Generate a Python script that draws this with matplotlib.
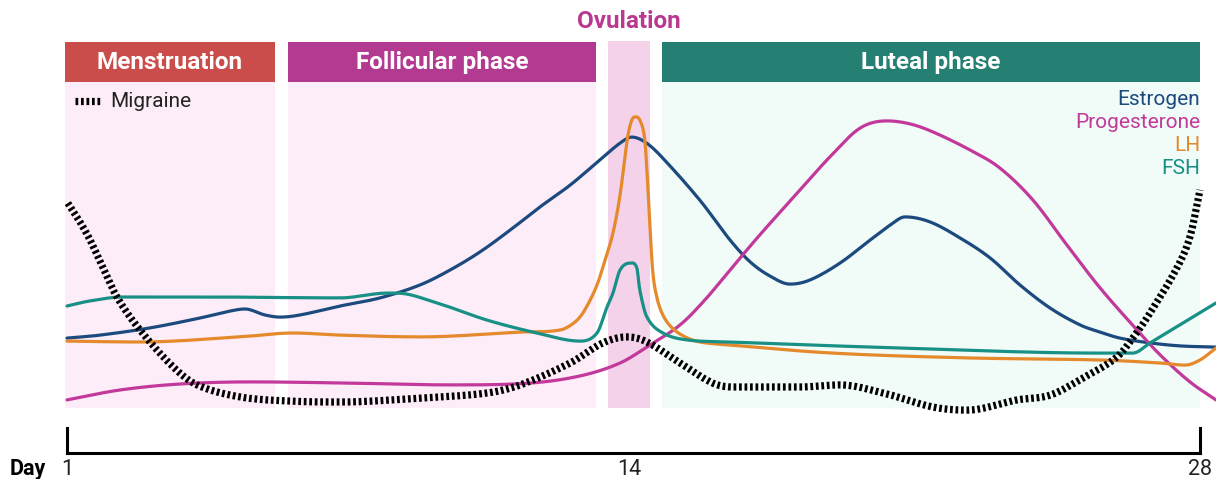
#!/usr/bin/env python3
"""Hormone levels and migraine frequency across the menstrual cycle."""

import matplotlib

matplotlib.use("Agg")
import matplotlib.pyplot as plt
import numpy as np
from matplotlib.patches import Rectangle

plt.rcParams["font.family"] = ["Roboto", "DejaVu Sans"]

# cycle phases (day span) -------------------------------------------------
phase_names = ["Menstruation", "Follicular phase", "Ovulation", "Luteal phase"]
phase_start = [0.95, 6.27, 13.89, 15.18]
phase_end = [5.96, 13.61, 14.89, 28.0]

# hormone curves: day, relative level ------------------------------------
estrogen_day = [1.00, 1.79, 2.98, 4.17, 4.88, 5.24, 5.72, 6.08, 6.55, 7.51, 8.46, 9.41,
                10.13, 10.84, 11.56, 12.27, 12.99, 13.70, 14.18, 14.46, 14.77, 15.13,
                16.08, 16.80, 17.28, 17.75, 18.23, 18.71, 19.42, 20.14, 20.62, 20.97,
                21.57, 22.28, 23.00, 23.71, 24.43, 25.14, 25.62, 26.09, 26.81, 27.52, 28.38]
estrogen = [23.3, 24.3, 26.7, 30.0, 32.3, 33.0, 31.0, 30.3, 31.0, 34.0, 36.7, 41.0,
            46.0, 52.0, 59.3, 67.0, 74.3, 82.7, 88.3, 90.3, 88.7, 84.3,
            69.3, 56.0, 48.7, 44.0, 41.3, 42.7, 48.3, 56.0, 61.0, 63.7,
            62.0, 56.7, 50.0, 41.0, 33.3, 27.7, 25.3, 23.3, 21.7, 20.7, 20.3]

progesterone_day = [1.00, 2.26, 3.69, 5.36, 7.74, 10.13, 12.03, 13.23, 14.18, 14.89, 15.61,
                    16.20, 16.80, 17.51, 18.47, 19.18, 19.90, 20.54, 21.09, 21.64, 22.52,
                    23.23, 24.02, 24.83, 25.62, 26.50, 27.05, 27.76, 28.38]
progesterone = [2.7, 6.0, 8.0, 8.7, 8.3, 7.7, 8.3, 10.7, 15.0, 21.0, 27.7,
                36.0, 46.0, 57.7, 72.7, 83.7, 93.3, 95.7, 94.7, 92.0, 86.0,
                80.0, 69.3, 54.3, 40.0, 26.0, 17.7, 8.7, 2.7]

lh_day = [1.00, 2.74, 5.12, 6.39, 7.51, 9.41, 11.80, 12.75, 13.11, 13.34, 13.63, 13.82,
          14.01, 14.18, 14.35, 14.46, 14.58, 14.70, 14.77, 14.82, 14.89, 14.96, 15.06,
          15.20, 15.42, 15.73, 16.08, 16.80, 19.25, 22.45, 25.62, 27.05, 27.64, 28.00, 28.38]
lh = [22.3, 22.0, 23.7, 25.0, 24.3, 23.7, 25.3, 26.0, 28.7, 32.7, 41.0, 49.3,
      58.3, 71.0, 89.3, 96.0, 97.0, 94.3, 89.3, 79.3, 61.0, 45.3, 36.7,
      31.0, 26.7, 23.7, 22.0, 21.0, 18.3, 16.7, 16.0, 15.0, 14.3, 16.0, 20.0]

fsh_day = [1.00, 1.55, 2.33, 4.34, 7.51, 8.63, 8.86, 9.82, 11.01, 12.20, 13.23, 13.63,
           13.87, 14.01, 14.18, 14.42, 14.58, 14.65, 14.82, 15.20, 15.77, 16.80, 20.85,
           25.62, 26.40, 26.81, 27.59, 28.38]
fsh = [34.0, 35.7, 37.0, 37.0, 36.7, 38.3, 38.3, 35.0, 29.3, 25.0, 22.3, 25.0,
       33.7, 38.3, 46.0, 48.3, 46.7, 39.3, 30.3, 25.0, 22.7, 22.0, 20.0,
       18.3, 18.3, 21.7, 28.3, 35.0]

migraine_day = [1.02, 1.31, 1.55, 1.86, 2.19, 2.74, 3.53, 4.10, 5.12, 6.31, 7.51, 9.41,
                11.01, 11.80, 12.99, 13.77, 14.35, 14.82, 15.61, 16.39, 16.87, 18.47,
                19.42, 20.45, 21.64, 22.45, 23.64, 24.43, 25.21, 26.02, 26.45, 26.81,
                27.45, 27.76, 28.00]
migraine = [68.3, 62.0, 56.0, 46.7, 37.0, 26.0, 13.7, 7.7, 3.7, 2.3, 2.0, 3.3,
            5.0, 7.7, 15.0, 21.7, 23.7, 22.0, 15.0, 8.3, 7.0, 7.0,
            7.7, 5.0, 0.3, -0.7, 2.7, 4.3, 10.0, 17.0, 24.3, 31.7,
            46.7, 57.0, 72.7]

hormone_names = ["Estrogen", "Progesterone", "LH", "FSH"]
hormone_colors = ["#1c4a7e", "#c2399b", "#e58a2c", "#199086"]
tick_labels = ["1", "14", "28"]


def smooth(x, y, n=1200):
    """Catmull-Rom style Hermite curve through the read points (drawing only)."""
    x = np.asarray(x, float)
    y = np.asarray(y, float)
    h = np.diff(x)
    d = np.diff(y) / h
    m = np.empty_like(y)
    m[1:-1] = (y[2:] - y[:-2]) / (x[2:] - x[:-2])
    m[1:-1][d[:-1] * d[1:] <= 0] = 0.0  # flat at local peaks / troughs
    m[0], m[-1] = d[0], d[-1]
    xs = np.linspace(x[0], x[-1], n)
    i = np.clip(np.searchsorted(x, xs) - 1, 0, len(h) - 1)
    t = (xs - x[i]) / h[i]
    ys = ((2 * t**3 - 3 * t**2 + 1) * y[i] + (t**3 - 2 * t**2 + t) * h[i] * m[i]
          + (-2 * t**3 + 3 * t**2) * y[i + 1] + (t**3 - t**2) * h[i] * m[i + 1])
    return xs, ys


W, H = 1216, 479
fig = plt.figure(figsize=(W / 100, H / 100), dpi=100)
ax = fig.add_axes([0, 0, 1, 1])
px_per_day = (1200 - 67) / 27
ax.set_xlim(1 - 67 / px_per_day, 1 + (W - 67) / px_per_day)
ax.set_ylim(-(H - 408) / 3, 408 / 3)
ax.axis("off")

# background bands and headers
band_colors = ["#fdedf8", "#fdedf8", "#f4d2ea", "#f1fbf8"]
head_colors = ["#cb4d4b", "#b33a91", None, "#257f73"]
for name, x0, x1, bc, hc in zip(phase_names, phase_start, phase_end, band_colors, head_colors):
    top = 122.3 if hc is None else 108.7
    ax.add_patch(Rectangle((x0, 0), x1 - x0, top, facecolor=bc, edgecolor="none", zorder=0))
    if hc is None:
        ax.text((x0 + x1) / 2, 128.7, name, ha="center", va="center", color="#b8398f",
                fontsize=17.5, fontweight="bold")
    else:
        ax.add_patch(Rectangle((x0, 108.7), x1 - x0, 13.3, facecolor=hc, edgecolor="none", zorder=1))
        ax.text((x0 + x1) / 2, 115.3, name, ha="center", va="center", color="white",
                fontsize=17.5, fontweight="bold")

series = [(estrogen_day, estrogen), (progesterone_day, progesterone), (lh_day, lh), (fsh_day, fsh)]
for (xd, yd), color in zip(series, hormone_colors):
    xs, ys = smooth(xd, yd)
    ax.plot(xs, ys, color=color, lw=2.3, solid_capstyle="round", zorder=3)

xs, ys = smooth(migraine_day, migraine)
ax.plot(xs, ys, color="black", lw=5.2, dashes=(0.38, 0.38), dash_capstyle="butt", zorder=4)

# legends
ax.plot([1.19, 1.83], [102.3, 102.3], color="black", lw=5.2, dashes=(0.38, 0.38),
        dash_capstyle="butt")
ax.text(2.02, 102.3, "Migraine", ha="left", va="center", fontsize=15, color="#222222")
for k, (name, color) in enumerate(zip(hormone_names, hormone_colors)):
    ax.text(28.0, 102.7 - k * 7.6, name, ha="right", va="center", fontsize=15, color=color)

# day axis
ax2 = fig.add_axes([67 / W, (H - 453) / H, (1200 - 67) / W, 25 / H])
ax2.set_xlim(1, 28)
ax2.patch.set_alpha(0)
ax2.set_yticks([])
ax2.spines["top"].set_visible(False)
for side in ("left", "right", "bottom"):
    ax2.spines[side].set_linewidth(2.2)
ov_mid = (phase_start[2] + phase_end[2]) / 2
ax2.set_xticks([1, ov_mid, 28], tick_labels, fontsize=15.5, color="#222222")
ax2.tick_params(axis="x", length=0, pad=4)
fig.text(10 / W, (H - 458) / H, "Day", ha="left", va="top", fontsize=15.5, fontweight="bold")

fig.savefig("out.png", dpi=100)
plt.close(fig)
